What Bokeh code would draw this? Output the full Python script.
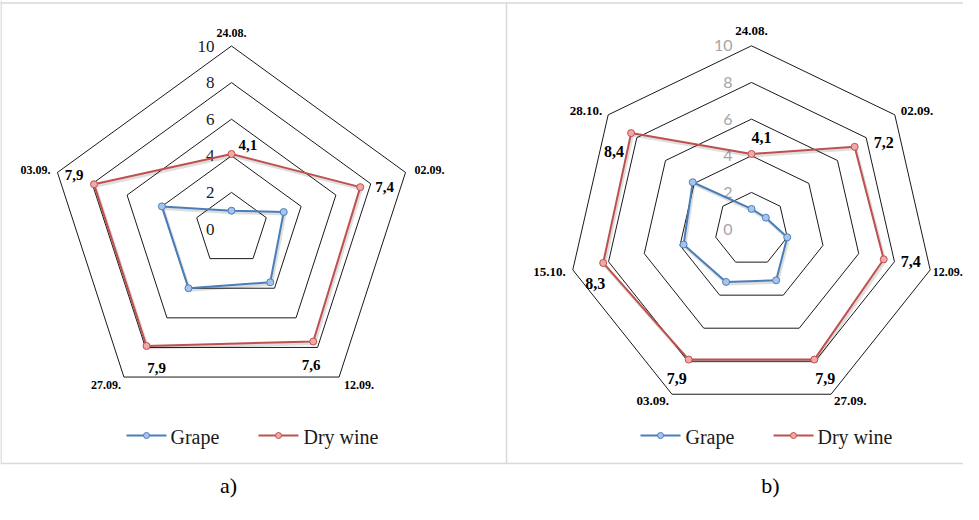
import math
from bokeh.plotting import figure
from bokeh.models import Range1d
from bokeh.core.properties import value
from bokeh.embed import file_html
from bokeh.resources import INLINE

# ---------------- data ----------------
cats_a = ["24.08.", "02.09.", "12.09.", "27.09.", "03.09."]
grape_a = [1.0, 3.0, 3.6, 4.0, 4.0]
wine_a = [4.1, 7.4, 7.6, 7.9, 7.9]

cats_b = ["24.08.", "02.09.", "12.09.", "27.09.", "03.09.", "15.10.", "28.10."]
grape_b = [1.1, 1.0, 2.0, 3.1, 3.2, 3.8, 4.1]
wine_b = [4.1, 7.2, 7.4, 7.9, 7.9, 8.3, 8.4]

ring_ticks = [0, 2, 4, 6, 8, 10]
series_names = ["Grape", "Dry wine"]
captions = ["a)", "b)"]

# ---------------- style ----------------
BLUE = "#4a7ebb"
BLUE_FILL = "#a9c4ea"
RED = "#c0504d"
RED_FILL = "#eeaaa8"
SERIF = value("Liberation Serif")

p = figure(width=963, height=504, x_range=Range1d(8, 971), y_range=Range1d(512, 8),
           output_backend="svg", toolbar_location=None, min_border=0,
           x_axis_type=None, y_axis_type=None)
p.grid.visible = False
p.outline_line_color = None
p.background_fill_color = "white"
p.border_fill_color = "white"

# panel borders
p.segment(x0=[8.5, 8, 514, 8], y0=[8, 10.5, 10, 471],
          x1=[8.5, 971, 514, 971], y1=[471, 10.5, 471, 471],
          line_color="#d9d9d9", line_width=1.5)


def pt(cx, cy, scale, n, k, v):
    th = 2 * math.pi * k / n
    return cx + v * scale * math.sin(th), cy - v * scale * math.cos(th)


def radar(cx, cy, scale, cats, grape, wine, cat_off, val_off, tick_style, cat_size, val_size):
    n = len(cats)
    # rings
    for t in ring_ticks[1:]:
        xs, ys = [], []
        for k in range(n + 1):
            x, y = pt(cx, cy, scale, n, k % n, t)
            xs.append(x); ys.append(y)
        p.line(xs, ys, line_color="#1a1a1a", line_width=1)
    # tick labels
    tcolor, tfont, tsize, tdx = tick_style
    p.text(x=[cx + tdx] * len(ring_ticks), y=[cy - t * scale for t in ring_ticks],
           text=[str(t) for t in ring_ticks], text_align="right", text_baseline="middle",
           text_font=tfont, text_font_size=tsize, text_color=tcolor)
    # series
    for vals, lc, fc in ((grape, BLUE, BLUE_FILL), (wine, RED, RED_FILL)):
        pts = [pt(cx, cy, scale, n, k, vals[k]) for k in range(n)]
        xs = [q[0] for q in pts] + [pts[0][0]]
        ys = [q[1] for q in pts] + [pts[0][1]]
        p.line([x + 1.2 for x in xs], [y + 2 for y in ys], line_color="black",
               line_alpha=0.13, line_width=3)
        p.line(xs, ys, line_color=lc, line_width=2)
        p.scatter([q[0] for q in pts], [q[1] for q in pts], marker="circle", size=7,
                  fill_color=fc, line_color=lc, line_width=1)
    # category labels
    for k in range(n):
        x, y = pt(cx, cy, scale, n, k, 10)
        dx, dy, al, sz = cat_off[k]
        p.text(x=[x + dx], y=[y + dy], text=[cats[k]], text_align=al, text_baseline="middle",
               text_font=SERIF, text_font_style="bold", text_font_size=sz or cat_size,
               text_color="black")
    # value labels (dry wine)
    for k in range(n):
        x, y = pt(cx, cy, scale, n, k, wine[k])
        dx, dy, al = val_off[k]
        p.text(x=[x + dx], y=[y + dy], text=[("%.1f" % wine[k]).replace(".", ",")],
               text_align=al, text_baseline="middle", text_font=SERIF, text_font_style="bold",
               text_font_size=val_size, text_color="black")


cat_off_a = [(0, -13, "center", None), (9, -2, "left", None), (5, 8, "left", None),
             (-3, 8, "right", None), (-7, -2, "right", None)]
val_off_a = [(7, -8.5, "left"), (15, 0, "left"), (-2, 23, "center"), (10, 22.5, "center"),
             (-10.5, -9, "right")]
radar(239, 236.5, 18.3, cats_a, grape_a, wine_a, cat_off_a, val_off_a,
      ("#1a1a1a", SERIF, "17px", -17), "12px", "15px")

cat_off_b = [(0, -15, "center", None), (6, -4, "left", None), (2.5, 2, "left", "12px"),
             (3, 7, "left", None), (-3, 7, "right", None), (-7, 2, "right", None),
             (-6, -4, "right", None)]
val_off_b = [(0, -16, "left"), (19, -4, "left"), (17, 2, "left"), (1, 19, "left"),
             (-2, 19, "right"), (-8, 21, "center"), (-7, 18, "right")]
radar(759, 236.6, 18.33, cats_b, grape_b, wine_b, cat_off_b, val_off_b,
      ("#a6a6a6", value("Lato"), "16px", -19), "13px", "16px")

# legends
for lx0, tx in ((134, 178), (648, 693)):
    p.line([lx0, lx0 + 40], [443, 443], line_color=BLUE, line_width=2)
    p.scatter([lx0 + 20], [443], marker="circle", size=6, fill_color=BLUE_FILL, line_color=BLUE)
    p.text(x=[tx], y=[444], text=[series_names[0]], text_align="left", text_baseline="middle",
           text_font=SERIF, text_font_size="20px", text_color="#1a1a1a")
for lx0, tx in ((266, 311), (781, 825)):
    p.line([lx0, lx0 + 40], [443, 443], line_color=RED, line_width=2)
    p.scatter([lx0 + 20], [443], marker="circle", size=6, fill_color=RED_FILL, line_color=RED)
    p.text(x=[tx], y=[444], text=[series_names[1]], text_align="left", text_baseline="middle",
           text_font=SERIF, text_font_size="20px", text_color="#1a1a1a")

# captions
p.text(x=[236, 778], y=[493, 493], text=captions, text_align="center",
       text_baseline="middle", text_font=SERIF, text_font_size="22px", text_color="black")

open("out.html", "w").write(file_html(p, INLINE))
